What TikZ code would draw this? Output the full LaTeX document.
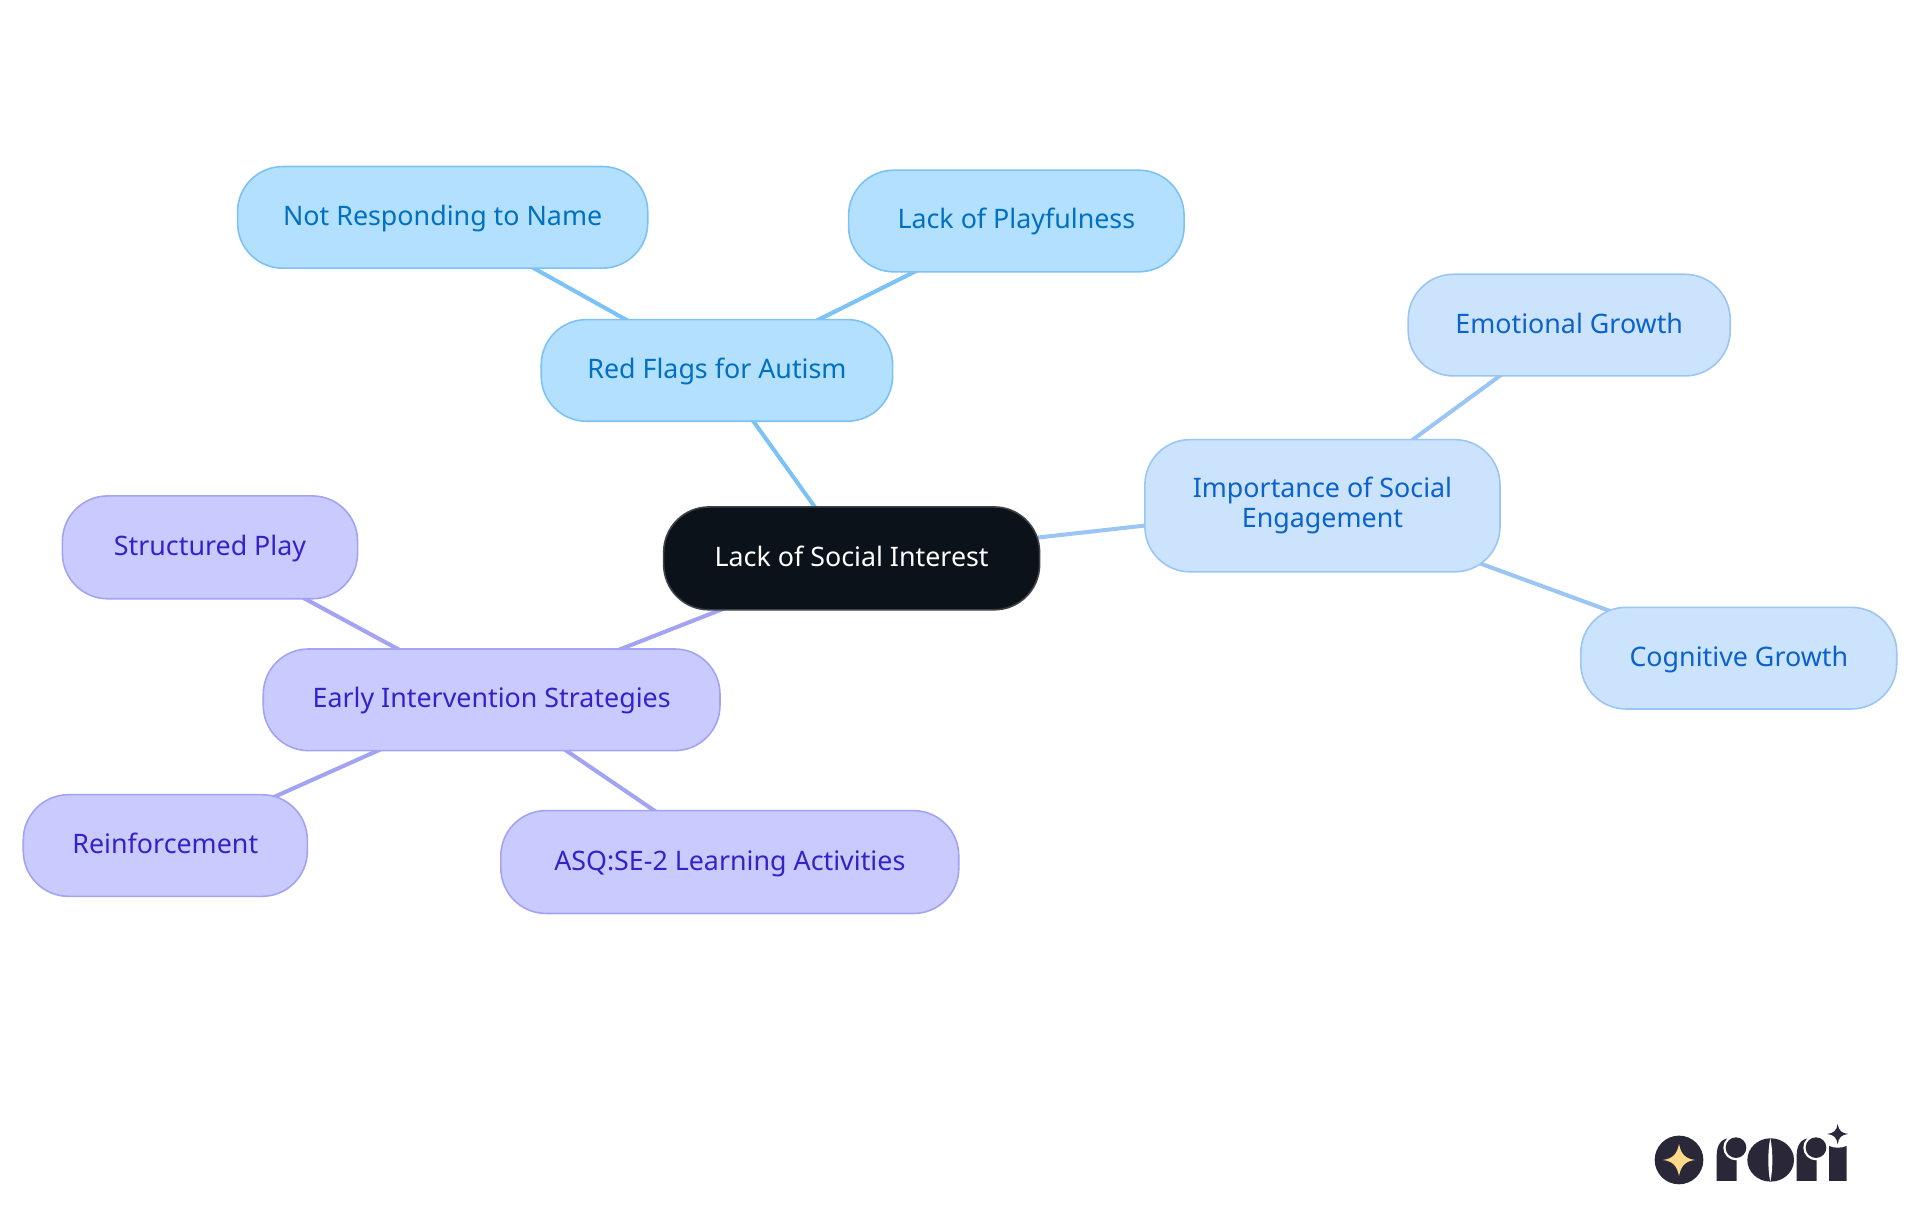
\documentclass[tikz,border=0pt]{standalone}
\usepackage{fontspec}
\setmainfont{Noto Sans}
\usetikzlibrary{backgrounds}
\definecolor{bfill}{HTML}{B3E0FF}\definecolor{bline}{HTML}{7CC2F4}\definecolor{btext}{HTML}{0070C0}
\definecolor{lfill}{HTML}{CCE3FD}\definecolor{lline}{HTML}{9AC5F4}\definecolor{ltext}{HTML}{0A62CC}
\definecolor{pfill}{HTML}{C9CBFF}\definecolor{pline}{HTML}{A3A3F3}\definecolor{ptext}{HTML}{3422C8}
\definecolor{rootfill}{HTML}{0B121A}\definecolor{rootline}{HTML}{3F4348}
\definecolor{logoc}{HTML}{2A2838}\definecolor{gold}{HTML}{FFD98A}
\tikzset{
 x=1pt,y=-1pt,
 base/.style={rounded corners=37pt,line width=1.3pt,align=center,inner sep=0pt,font=\fontsize{21.9}{24.5}\selectfont},
 rootnode/.style={base,fill=rootfill,draw=rootline,text=white},
 bluenode/.style={base,fill=bfill,draw=bline,text=btext},
 lightnode/.style={base,fill=lfill,draw=lline,text=ltext},
 purplenode/.style={base,fill=pfill,draw=pline,text=ptext},
 bedge/.style={draw=bline,line width=3.3pt},
 ledge/.style={draw=lline,line width=3.3pt},
 pedge/.style={draw=pline,line width=3.3pt},
 logo/.style={fill=logoc,draw=none},
}
\newcommand{\oneline}{\rule[-5.5pt]{0pt}{24pt}}
\newcommand{\mmnode}[7]{% name style L R T B text
 \node[#2,minimum width={(#4-#3)*1pt},minimum height={(#6-#5)*1pt}] (#1) at ({(#3+#4)/2},{(#5+#6)/2}) {#7};}
\begin{document}
\begin{tikzpicture}
\useasboundingbox (0,0) rectangle (1568,992.25);
\mmnode{root}{rootnode}{542}{849}{414}{498}{\oneline Lack of Social Interest}
\mmnode{red}{bluenode}{442}{729}{261}{344}{\oneline Red Flags for Autism}
\mmnode{name}{bluenode}{194}{529}{136}{219}{\oneline Not Responding to Name}
\mmnode{play}{bluenode}{693}{967}{139}{222}{\oneline Lack of Playfulness}
\mmnode{imp}{lightnode}{935}{1225}{359}{467}{Importance of Social\\Engagement}
\mmnode{emo}{lightnode}{1150}{1413}{224}{307}{\oneline Emotional Growth}
\mmnode{cog}{lightnode}{1291}{1549}{496}{579}{\oneline Cognitive Growth}
\mmnode{early}{purplenode}{215}{588}{530}{613}{\oneline Early Intervention Strategies}
\mmnode{struct}{purplenode}{51}{292}{405}{489}{\oneline Structured Play}
\mmnode{reinf}{purplenode}{19}{251}{649}{732}{\oneline Reinforcement}
\mmnode{asq}{purplenode}{409}{783}{662}{746}{\oneline ASQ:SE-2 Learning Activities}
\begin{pgfonlayer}{background}
\draw[bedge] (root.center) -- (red.center);
\draw[bedge] (red.center) -- (name.center);
\draw[bedge] (red.center) -- (play.center);
\draw[ledge] (root.center) -- (imp.center);
\draw[ledge] (imp.center) -- (emo.center);
\draw[ledge] (imp.center) -- (cog.center);
\draw[pedge] (root.center) -- (early.center);
\draw[pedge] (early.center) -- (struct.center);
\draw[pedge] (early.center) -- (reinf.center);
\draw[pedge] (early.center) -- (asq.center);
\end{pgfonlayer}
% logo
\begin{scope}[shift={(1323,898.3)},x=0.2722pt,y=-0.2722pt]
\fill[logo] (177,180) circle (73);
\fill[gold] (177,132) .. controls (183,163) and (196,176) .. (225,180) .. controls (196,184) and (183,197) .. (177,228) .. controls (171,197) and (158,184) .. (129,180) .. controls (158,176) and (171,163) .. (177,132) -- cycle;
% first r
\fill[logo] (290,243) -- (290,165) .. controls (290,135) and (305,115) .. (328,115) -- (350,150) -- (350,243) -- cycle;
\fill[white] (348,143) circle (38);
\fill[logo] (348,143) circle (31);
% o
\fill[logo] (452,180) ellipse (70 and 65);
\fill[white] (451,115) .. controls (443,150) and (443,210) .. (451,245) .. controls (459,210) and (459,150) .. (451,115) -- cycle;
% second r
\fill[logo] (530,243) -- (530,165) .. controls (530,135) and (545,115) .. (568,115) -- (590,150) -- (590,243) -- cycle;
\fill[white] (588,143) circle (38);
\fill[logo] (588,143) circle (31);
% i
\fill[logo] (627,243) -- (627,138) .. controls (640,145) and (666,145) .. (680,138) -- (680,243) -- cycle;
\fill[logo] (653,72) .. controls (656,92) and (665,100) .. (685,102) .. controls (665,104) and (656,112) .. (653,133) .. controls (650,112) and (641,104) .. (621,102) .. controls (641,100) and (650,92) .. (653,72) -- cycle;
\end{scope}
\end{tikzpicture}
\end{document}
